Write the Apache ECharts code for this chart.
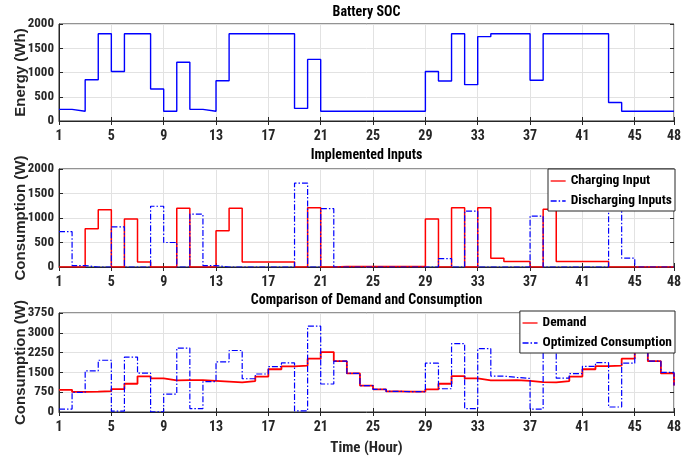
<!DOCTYPE html>
<html>
<head>
<meta charset="utf-8">
<script src="https://cdn.jsdelivr.net/npm/echarts@6/dist/echarts.min.js"></script>
<style>html,body{margin:0;padding:0;background:#fff}#c{width:694px;height:459px}</style>
</head>
<body>
<div id="c"></div>
<script>
var hours = [1,2,3,4,5,6,7,8,9,10,11,12,13,14,15,16,17,18,19,20,21,22,23,24,25,26,27,28,29,30,31,32,33,34,35,36,37,38,39,40,41,42,43,44,45,46,47,48];
var batterySOC = [240,200,850,1800,1020,1800,1800,660,200,1210,240,200,830,1800,1800,1800,1800,1800,260,1270,200,200,200,200,200,200,200,200,1020,825,1800,750,1740,1800,1800,1800,840,1800,1800,1800,1800,1800,380,200,200,200,200,200];
var chargingInput = [0,0,780,1170,0,980,100,0,0,1200,0,0,740,1200,100,100,100,100,0,1210,0,10,10,10,10,10,10,10,980,0,1210,0,1210,180,110,110,0,1180,110,110,110,110,0,0,0,0,0,0];
var dischargingInputs = [720,30,0,0,820,0,0,1240,500,0,1080,30,0,0,0,0,0,0,1710,0,1190,0,0,0,0,0,0,0,0,170,0,1140,0,0,0,0,1040,0,0,0,0,0,1560,180,0,0,0,0];
var demand = [840,760,770,790,870,1070,1350,1270,1200,1210,1210,1180,1150,1120,1170,1340,1620,1730,1760,2020,2270,1925,1460,1000,860,780,770,770,860,1070,1360,1270,1200,1200,1210,1180,1130,1120,1170,1340,1620,1740,1760,2020,2270,1925,1460,1000];
var optimizedConsumption = [110,740,1560,1960,30,2080,1470,10,680,2420,130,1150,1900,2330,1260,1440,1720,1860,40,3250,1060,1925,1460,1000,860,780,770,770,1850,880,2590,130,2400,1360,1310,1270,110,2300,1280,1450,1730,1870,190,1850,2270,1925,1500,1000];
var panelTitles = ['Battery SOC', 'Implemented Inputs', 'Comparison of Demand and Consumption'];
var yNames = ['Energy (Wh)', 'Consumption (W)', 'Consumption (W)'];
var xName = 'Time (Hour)';
var yMax = [2000, 2000, 3750];
var yStep = [500, 500, 750];

function pairs(v){ return hours.map(function(h,i){ return [h, v[i]]; }); }

var NARROW = "'Roboto Condensed','Liberation Sans Narrow',Arial,sans-serif";
var WIDE = "'Liberation Sans',Arial,sans-serif";
var ink = '#262626';
var gridCol = '#e2e2e2';
var grids = [
  {left: 59, right: 20, top: 24, height: 97},
  {left: 59, right: 20, top: 169, height: 98},
  {left: 59, right: 20, top: 313, height: 99}
];
grids.forEach(function(g){
  g.show = true; g.borderColor = ink; g.borderWidth = 1; g.backgroundColor = 'transparent';
  g.containLabel = false; g.outerBoundsMode = 'none';
});

function plain(v){ return String(v); }

var xAxes = [], yAxes = [];
for (var i = 0; i < 3; i++) {
  xAxes.push({
    type: 'value', gridIndex: i, min: 1, max: 48, interval: 4, position: 'bottom',
    axisLine: {show: true, lineStyle: {color: ink}},
    axisTick: {show: true, inside: true, length: 4, lineStyle: {color: ink}},
    axisLabel: {color: ink, fontFamily: NARROW, fontWeight: 'bold', fontSize: 14, margin: 8, formatter: plain},
    splitLine: {show: true, lineStyle: {color: gridCol, width: 1}},
    name: i === 2 ? xName : '', nameLocation: 'middle', nameGap: 29, nameMoveOverlap: false,
    nameTextStyle: {color: ink, fontFamily: NARROW, fontWeight: 'bold', fontSize: 15}
  });
  yAxes.push({
    type: 'value', gridIndex: i, min: 0, max: yMax[i], interval: yStep[i], position: 'left',
    axisLine: {show: true, lineStyle: {color: ink}},
    axisTick: {show: true, inside: true, length: 4, lineStyle: {color: ink}},
    axisLabel: {color: ink, fontFamily: NARROW, fontWeight: 'bold', fontSize: 13, margin: 5, formatter: plain},
    splitLine: {show: true, lineStyle: {color: gridCol, width: 1}},
    name: yNames[i], nameLocation: 'middle', nameGap: 31, nameMoveOverlap: false,
    nameTextStyle: {color: ink, fontFamily: WIDE, fontWeight: 'bold', fontSize: 15}
  });
}
for (var j = 0; j < 3; j++) {
  xAxes.push({
    type: 'value', gridIndex: j, min: 1, max: 48, interval: 4, position: 'top',
    axisLine: {show: false}, axisLabel: {show: false}, splitLine: {show: false},
    axisTick: {show: true, inside: true, length: 4, lineStyle: {color: ink}}
  });
  yAxes.push({
    type: 'value', gridIndex: j, min: 0, max: yMax[j], interval: yStep[j], position: 'right',
    axisLine: {show: false}, axisLabel: {show: false}, splitLine: {show: false},
    axisTick: {show: true, inside: true, length: 4, lineStyle: {color: ink}}
  });
}

var dashDot = [6, 2, 1.5, 2];
var series = [
  {name: 'Battery SOC', type: 'line', step: 'end', xAxisIndex: 0, yAxisIndex: 0, data: pairs(batterySOC),
   symbol: 'none', lineStyle: {color: '#0000ff', width: 1.4}, itemStyle: {color: '#0000ff'}},
  {name: 'Charging Input', type: 'line', step: 'end', xAxisIndex: 1, yAxisIndex: 1, data: pairs(chargingInput),
   symbol: 'none', lineStyle: {color: '#ff0000', width: 1.5}, itemStyle: {color: '#ff0000'}},
  {name: 'Discharging Inputs', type: 'line', step: 'end', xAxisIndex: 1, yAxisIndex: 1, data: pairs(dischargingInputs),
   symbol: 'none', lineStyle: {color: '#0000ff', width: 1.2, type: dashDot}, itemStyle: {color: '#0000ff'}},
  {name: 'Demand', type: 'line', step: 'end', xAxisIndex: 2, yAxisIndex: 2, data: pairs(demand),
   symbol: 'none', lineStyle: {color: '#ff0000', width: 1.8}, itemStyle: {color: '#ff0000'}},
  {name: 'Optimized Consumption', type: 'line', step: 'end', xAxisIndex: 2, yAxisIndex: 2, data: pairs(optimizedConsumption),
   symbol: 'none', lineStyle: {color: '#0000ff', width: 1.2, type: dashDot}, itemStyle: {color: '#0000ff'}}
];

function legendAt(top, names){
  return {
    data: names, orient: 'vertical', right: 19, top: top,
    backgroundColor: '#fff', borderColor: ink, borderWidth: 1, borderRadius: 0,
    padding: [5, 3, 3, 2], itemGap: 6, itemWidth: 15, itemHeight: 14,
    itemStyle: {opacity: 0},
    lineStyle: {width: 1.3},
    textStyle: {color: '#000', fontFamily: NARROW, fontWeight: 'bold', fontSize: 13.5}
  };
}

var titleY = [12.5, 155, 300];
var graphics = panelTitles.map(function(t, i){
  return {type: 'text', x: 366.5, y: titleY[i],
    style: {text: t, fill: '#000', font: 'bold 14px ' + NARROW, textAlign: 'center', textVerticalAlign: 'middle'}};
});

var chart = echarts.init(document.getElementById('c'), null, {renderer: 'canvas'});
chart.setOption({
  animation: false,
  backgroundColor: '#fff',
  grid: grids,
  xAxis: xAxes,
  yAxis: yAxes,
  legend: [legendAt(169, ['Charging Input', 'Discharging Inputs']), legendAt(311, ['Demand', 'Optimized Consumption'])],
  graphic: graphics,
  series: series
});
</script>
</body>
</html>
